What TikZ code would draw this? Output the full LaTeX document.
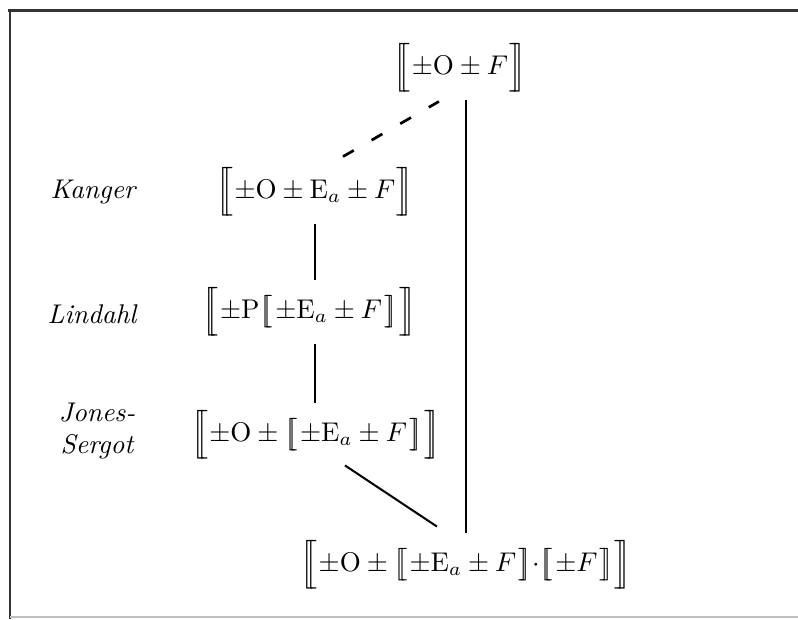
\documentclass[tikz,border=0pt]{standalone}
\usepackage{amsmath}
\usetikzlibrary{calc}

% semantic brackets
\newcommand{\osem}[1]{\Bigl[\!\!\Bigl[\mkern1mu#1\mkern1mu\Bigr]\!\!\Bigr]}
\newcommand{\isem}[1]{\bigl[\!\!\bigl[\mkern1.5mu#1\mkern1.5mu\bigr]\!\!\bigr]}

\begin{document}
\begin{tikzpicture}[
x=0.013cm, y=-0.013cm, % pixel coordinates
every node/.style={scale=1},
formula/.style={inner sep=1pt, minimum height=23.6pt},
who/.style={font=\itshape, align=center},
link/.style={line width=0.75pt},
weak/.style={line width=1pt, dash pattern=on 4.6pt off 7.6pt}
]
\useasboundingbox (0,0) rectangle (798,619);

% --- Khung ---
\draw[line width=1.1pt, black!80] (8,10) -- (798,10);
\draw[line width=1.1pt, black!80] (10,10) -- (10,619);
\draw[line width=0.6pt, black!25] (10,617) -- (798,617);

% --- Cac cong thuc ---
\node[formula] (top) at (460,68) {$\osem{\pm\mathrm{O}\pm F}$};
\node[formula] (kanger) at (315,192) {$\osem{\pm\mathrm{O}\pm\mathrm{E}_a\pm F}$};
\node[formula] (lindahl) at (309,312) {$\osem{\pm\mathrm{P}\isem{\pm\mathrm{E}_a\pm F}}$};
\node[formula] (jones) at (316,435) {$\osem{\pm\mathrm{O}\pm\isem{\pm\mathrm{E}_a\pm F}}$};
\node[formula] (bottom) at (466,565) {$\osem{\pm\mathrm{O}\pm\isem{\pm\mathrm{E}_a\pm F}{\cdot}\isem{\pm F}}$};

% --- Ten ---
\node[who] (lkanger) at (93,192) {Kanger};
\node[who] (llindahl) at (92,314) {Lindahl};
\node[who] (ljones) at (97,431) {Jones-\\Sergot};

% --- Duong noi ---
\draw[weak] ($(kanger.north)+(28,-3)$) -- ($(top.south)+(-21,1)$);
\draw[link] (top.south -| bottom.north) -- (bottom.north);
\draw[link] (kanger.south) -- (kanger.south |- lindahl.north);
\draw[link] (lindahl.south -| kanger.south) -- (jones.north -| kanger.south);
\draw[link] ($(jones.south)+(29,-2)$) -- ($(bottom.north)+(-29,-6)$);

\end{tikzpicture}
\end{document}
